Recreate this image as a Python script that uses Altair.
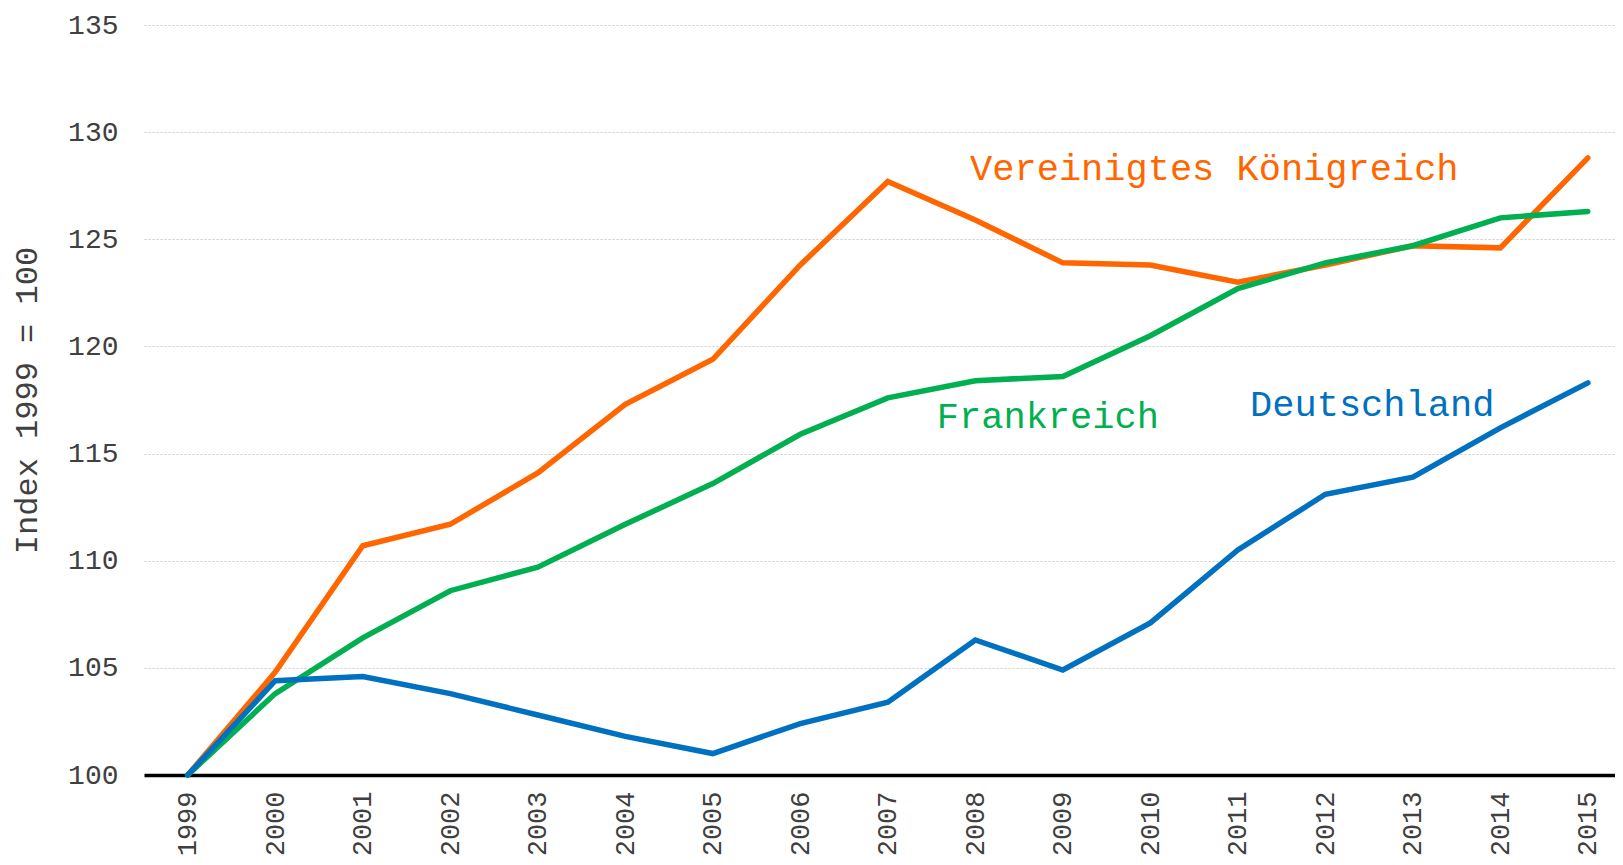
import altair as alt
import pandas as pd

years = list(range(1999, 2016))
uk = [100, 104.8, 110.7, 111.7, 114.1, 117.3, 119.4, 123.8, 127.7, 125.9, 123.9, 123.8, 123.0, 123.8, 124.7, 124.6, 128.8]
fr = [100, 103.8, 106.4, 108.6, 109.7, 111.7, 113.6, 115.9, 117.6, 118.4, 118.6, 120.5, 122.7, 123.9, 124.7, 126.0, 126.3]
de = [100, 104.4, 104.6, 103.8, 102.8, 101.8, 101.0, 102.4, 103.4, 106.3, 104.9, 107.1, 110.5, 113.1, 113.9, 116.2, 118.3]

series_names = ["Vereinigtes Königreich", "Frankreich", "Deutschland"]
series_colors = ["#FF6600", "#00B050", "#0070C0"]

label_x = [2007.94, 2007.56, 2011.14]
label_y = [127.75, 116.2, 116.75]

y_ticks = [100, 105, 110, 115, 120, 125, 130, 135]

FONT = "Liberation Mono"

rows = []
for name, vals in zip(series_names, [uk, fr, de]):
    for yr, v in zip(years, vals):
        rows.append({"Jahr": yr, "Wert": v, "Land": name})
df = pd.DataFrame(rows)

lab = pd.DataFrame({"Land": series_names, "x": label_x, "y": label_y, "color": series_colors})

xscale = alt.Scale(domain=[1998.5, 2015.31], nice=False, zero=False)
yscale = alt.Scale(domain=[100, 135], nice=False, zero=False)

xaxis = alt.Axis(values=years, format="d", title=None, labelAngle=270, labelFont=FONT,
                 labelFontSize=27, labelColor="#404040", labelPadding=16, ticks=False, tickSize=0,
                 grid=False, domainColor="#000000", domainWidth=3.5, labelOverlap=False,
                 labelFlush=False)
yaxis = alt.Axis(values=y_ticks, title="Index 1999 = 100", titleFont=FONT, titleFontSize=32,
                 titleFontWeight="normal", titleColor="#404040", titleX=-118, titleY=375,
                 titleAngle=270, titleAlign="center", titleBaseline="middle",
                 labelFont=FONT, labelFontSize=28, labelColor="#404040", labelPadding=26,
                 ticks=False, tickSize=0, domain=False, grid=True, gridColor="#cccccc",
                 gridDash=[2, 2], gridWidth=1)

layers = []
for name, col in zip(series_names, series_colors):
    layers.append(
        alt.Chart(df).transform_filter(alt.datum.Land == name)
        .mark_line(color=col, strokeWidth=5.5, strokeCap="round", clip=False)
        .encode(
            x=alt.X("Jahr:Q", scale=xscale, axis=xaxis),
            y=alt.Y("Wert:Q", scale=yscale, axis=yaxis),
        )
    )

texts = alt.Chart(lab).mark_text(font=FONT, fontSize=37, align="left", baseline="alphabetic").encode(
    x=alt.X("x:Q", scale=xscale, axis=xaxis),
    y=alt.Y("y:Q", scale=yscale, axis=yaxis),
    text="Land:N",
    color=alt.Color("color:N", scale=None),
)

chart = alt.layer(*layers, texts).properties(
    width=1471,
    height=750,
    autosize=alt.AutoSizeParams(type="none"),
    padding={"left": 136, "top": 17, "right": 0, "bottom": 85},
    background="white",
).configure_view(stroke=None)

chart.save("out.html", embed_options={"renderer": "svg", "actions": False})
